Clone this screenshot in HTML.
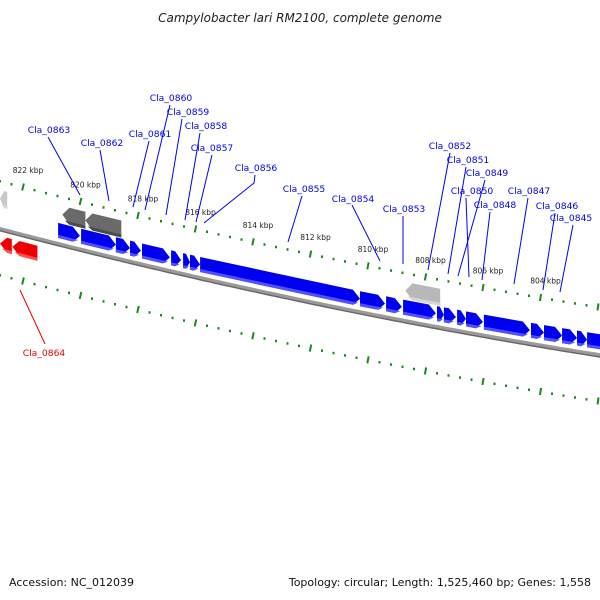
<!DOCTYPE html>
<html><head><meta charset="utf-8"><style>
html,body{margin:0;padding:0;background:#fff}
svg{display:block;font-family:"DejaVu Sans","Liberation Sans",sans-serif}
</style></head><body>
<svg id="map" width="600" height="600" viewBox="0 0 600 600" xmlns="http://www.w3.org/2000/svg">
<text x="300" y="22" text-anchor="middle" font-size="12" font-style="italic" fill="#222">Campylobacter lari RM2100, complete genome</text>
<text x="9" y="586" font-size="11" fill="#111">Accession: NC_012039</text>
<text x="591" y="586" text-anchor="end" font-size="11" fill="#111">Topology: circular; Length: 1,525,460 bp; Genes: 1,558</text>
<g id="layer"></g>
</svg>
<script>
const tickKbp = [822,820,818,816,814,812,810,808,806,804,802];
const tickLabels = ["822 kbp","820 kbp","818 kbp","816 kbp","814 kbp","812 kbp","810 kbp","808 kbp","806 kbp","804 kbp",""];
const blueStart = [820.78,819.98,818.77,818.28,817.86,816.85,816.43,816.19,815.84,810.28,809.37,808.78,807.60,807.36,806.90,806.59,805.97,804.33,803.88,803.25,802.73,802.38];
const blueEnd   = [820.02,818.77,818.28,817.90,816.89,816.50,816.19,815.84,810.28,809.41,808.82,807.64,807.36,806.94,806.59,806.00,804.37,803.88,803.25,802.73,802.38,801.50];
const grayStart = [820.63,819.83,808.70,822.80];
const grayEnd   = [819.83,818.58,807.49,822.55];
const grayColor = ["#6a6a6a","#6a6a6a","#b8b8b8","#c8c8c8"];
const redStart = [822.80,822.37];
const redEnd   = [822.39,821.50];
const labelNames = ["Cla_0863","Cla_0862","Cla_0861","Cla_0860","Cla_0859","Cla_0858","Cla_0857","Cla_0856","Cla_0855","Cla_0854","Cla_0853","Cla_0852","Cla_0851","Cla_0849","Cla_0850","Cla_0848","Cla_0847","Cla_0846","Cla_0845","Cla_0864"];
const labelX = [49,102,150,171,188,206,212,256,304,353,404,450,468,487,472,495,529,557,571,44];
const labelY = [133,146,137,101,115,129,151,171,192,202,212,149,163,176,194,208,194,209,221,356];
const lineFrom = [[48,137],[100,150],[149,141],[170,105],[182,119],[200,133],[212,155],[255,175],[302,196],[352,205],[403,216],[450,153],[466,167],[485,180],[466,198],[490,212],[528,198],[555,213],[573,225],[45,344]];
const lineTo = [[80,195],[109,201],[133,207],[145,210],[166,215],[185,220],[196,222],[204,223],[288,242],[380,261],[403,264],[428,270],[448,274],[458,276],[469,277],[482,280],[514,284],[543,290],[560,292],[20,290]];

const NS="http://www.w3.org/2000/svg";
const layer=document.getElementById('layer');
function X(k){return 23+(822-k)*28.75;}
function Yt(x){return 181+0.262*x-0.000086*x*x;}
function BB(x){return Yt(x)+46;}
function mk(tag,attrs){const e=document.createElementNS(NS,tag);for(const k in attrs)e.setAttribute(k,attrs[k]);layer.appendChild(e);return e;}

// backbone
let pts=[];for(let x=-5;x<=605;x+=5)pts.push(x+','+(BB(x)+2).toFixed(1));
let bb=mk('polyline',{points:pts.join(' '),fill:'none',stroke:'#9a9a9a','stroke-width':4});


pts=[];for(let x=-5;x<=605;x+=5)pts.push(x+','+(BB(x)+3.8).toFixed(1));
let bb2=mk('polyline',{points:pts.join(' '),fill:'none',stroke:'#666','stroke-width':1.4});



// ticks
function tickRow(off,name,withLabels){
  for(let k=823.6;k>=800;k-=0.4){
    const kk=Math.round(k*10)/10;const x=X(kk);if(x<-2||x>602)continue;
    const y=Yt(x)+off;
    const major=Math.abs(kk/2-Math.round(kk/2))<0.01;
    if(major){
      const s=0.25-0.00017*x;
      const l=mk('line',{x1:x-s*3.5,y1:y+3.5,x2:x+s*3.5,y2:y-3.5,stroke:'#1a8a1a','stroke-width':2});
      
      
    } else {
      const d=mk('rect',{x:x-1,y:y-1,width:2,height:2.5,fill:'#1a8a1a'});
      
      
    }
  }
  if(withLabels){
    tickKbp.forEach((k,i)=>{
      const x=X(k);
      const t=mk('text',{x:x+5,y:Yt(x)-14,'text-anchor':'middle','font-size':7.5,fill:'#222'});
      t.textContent=tickLabels[i];
      
      
    });
  }
}
tickRow(0,'outer-scale',true);
tickRow(94,'inner-scale',false);

function gene(s,e,o1,o2,fill,shade,dir,name){
  let x1=X(s),x2=X(e);if(x1>x2){const t=x1;x1=x2;x2=t;}
  const h=Math.min(7,(x2-x1)*0.6);
  const P=[];
  const b=(x,o)=>[x,BB(x)+o];
  const mid=(o1+o2)/2;
  let poly;
  if(dir>0) poly=[b(x1,o1),b(x2-h,o1),b(x2,mid),b(x2-h,o2),b(x1,o2)];
  else poly=[b(x1+h,o1),b(x2,o1),b(x2,o2),b(x1+h,o2),b(x1,mid)];
  const g=mk('polygon',{points:poly.map(p=>p[0].toFixed(1)+','+p[1].toFixed(1)).join(' '),fill:fill});
  
  
  const so=o2-3;
  let sp;
  if(dir>0) sp=[b(x1,so),b(x2-h*0.25,so),b(x2-h,o2),b(x1,o2)];
  else sp=[b(x1+h*0.3,so),b(x2,so),b(x2,o2),b(x1+h,o2)];
  const sh=mk('polygon',{points:sp.map(p=>p[0].toFixed(1)+','+p[1].toFixed(1)).join(' '),fill:shade});
  
  
}
blueStart.forEach((s,i)=>gene(s,blueEnd[i],-19,-4,'#0000f0','#5050ff',1,'forward-gene'));
grayStart.forEach((s,i)=>gene(s,grayEnd[i],-37,-20,grayColor[i],i<2?'#4a4a4a':'#d6d6d6',0,'rna-feature'));
redStart.forEach((s,i)=>gene(s,redEnd[i],9,24,'#ee0000','#ff5050',-1,'reverse-gene'));

// labels
labelNames.forEach((n,i)=>{
  const col=n==='Cla_0864'?'#ee0000':'#0000ee';
  const l=mk('polyline',{points:(n==='Cla_0856'?[lineFrom[i],[254,183],lineTo[i]]:[lineFrom[i],lineTo[i]]).map(p=>p.join(',')).join(' '),fill:'none',stroke:col,'stroke-width':1});
  
  
  const t=mk('text',{x:labelX[i],y:labelY[i],'text-anchor':'middle','font-size':9.2,fill:col});
  t.textContent=n;
  
  
});
</script>
</body></html>
